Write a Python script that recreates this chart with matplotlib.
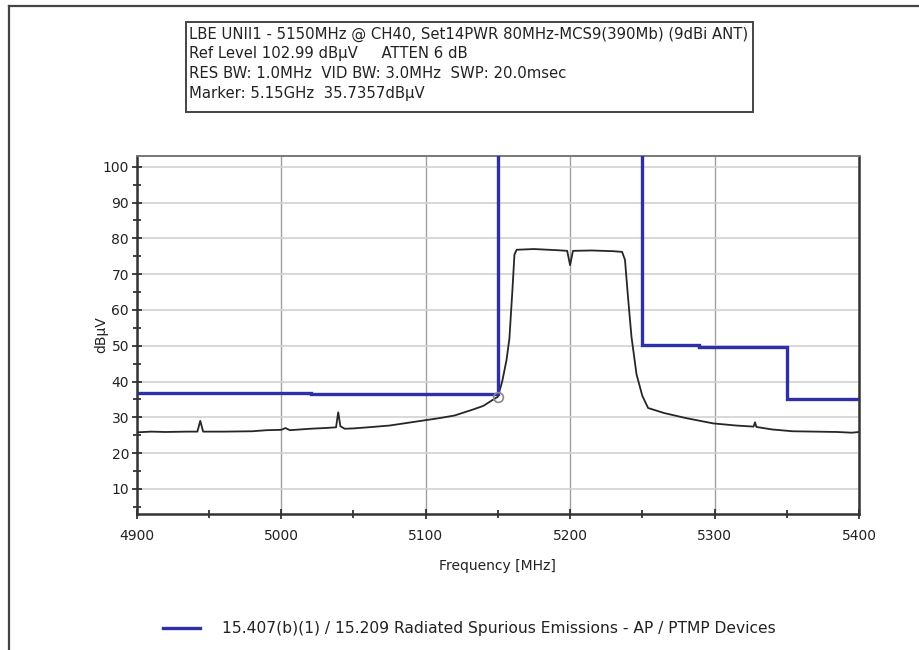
import matplotlib
matplotlib.use("Agg")
import matplotlib.pyplot as plt
from matplotlib.lines import Line2D
from matplotlib.patches import Rectangle
from matplotlib.ticker import MultipleLocator

plt.rcParams['font.family'] = ['DejaVu Sans']

# Measured peak trace (frequency in MHz, level in dBuV)
trace_freq = [4900, 4910, 4920, 4935, 4942, 4944, 4946, 4960, 4980, 4990,
              5000, 5003, 5006, 5020, 5030, 5038, 5039.5, 5041, 5044, 5050,
              5060, 5075, 5090, 5100, 5110, 5120, 5133, 5140, 5147, 5150,
              5153, 5156, 5158, 5160, 5161.5, 5163, 5175, 5190, 5198, 5200,
              5202, 5215, 5230, 5236, 5238, 5240, 5242.5, 5246, 5250, 5254,
              5265, 5280, 5299, 5315, 5327, 5328, 5329, 5340, 5354, 5370,
              5385, 5395, 5400]
trace_level = [25.8, 26.0, 25.9, 26.0, 26.0, 29.0, 26.0, 26.0, 26.1, 26.4,
               26.5, 27.0, 26.4, 26.8, 27.0, 27.2, 31.4, 27.5, 26.8, 26.9,
               27.2, 27.7, 28.6, 29.2, 29.8, 30.5, 32.2, 33.2, 35.0, 35.7357,
               40.0, 46.0, 52.0, 65.0, 75.5, 76.8, 77.0, 76.7, 76.5, 72.5,
               76.5, 76.6, 76.4, 76.2, 74.0, 64.0, 52.5, 42.0, 36.0, 32.6,
               31.2, 29.8, 28.3, 27.7, 27.4, 28.6, 27.3, 26.6, 26.1, 26.0,
               25.9, 25.7, 25.9]

# Limit line: band edges (MHz) and level per band (dBuV); restricted band runs off scale
limit_edges = [4900, 5021, 5150, 5250, 5289, 5350, 5400]
limit_levels = [36.9, 36.4, 200.0, 50.1, 49.6, 35.2]

marker_freq = 5150
marker_level = 35.7357

x_ticks = [4900, 5000, 5100, 5200, 5300, 5400]
y_ticks = [10, 20, 30, 40, 50, 60, 70, 80, 90, 100]

header_lines = [
    "LBE UNII1 - 5150MHz @ CH40, Set14PWR 80MHz-MCS9(390Mb) (9dBi ANT)",
    "Ref Level 102.99 dB\u00b5V     ATTEN 6 dB",
    "RES BW: 1.0MHz  VID BW: 3.0MHz  SWP: 20.0msec",
    "Marker: 5.15GHz  35.7357dB\u00b5V",
]
legend_label = "15.407(b)(1) / 15.209 Radiated Spurious Emissions - AP / PTMP Devices"

W, H = 920, 650
LIMIT_COLOR = "#2f2fa8"
TEXT_COLOR = "#222222"

fig = plt.figure(figsize=(W / 100, H / 100), dpi=100)
fig.patch.set_facecolor("white")


def fx(px):
    return px / W


def fy(py):
    return 1 - py / H


# Outer frame (left and top edges)
fig.add_artist(Line2D([fx(9), fx(9)], [fy(6), 0], color="#444444", lw=1.6))
fig.add_artist(Line2D([fx(9), 1], [fy(6), fy(6)], color="#444444", lw=1.6))

ax = fig.add_axes([fx(136.7), fy(514), fx(859) - fx(136.7), fy(156) - fy(514)])
ax.set_xlim(4900, 5400)
ax.set_ylim(2.99, 102.99)

ax.xaxis.set_minor_locator(MultipleLocator(50))
ax.yaxis.set_minor_locator(MultipleLocator(5))
ax.set_xticks(x_ticks)
ax.set_yticks(y_ticks)
ax.set_xticklabels([str(v) for v in x_ticks])
ax.set_yticklabels([str(v) for v in y_ticks])

ax.tick_params(which="both", direction="inout", color="#222222", width=1.2,
               labelsize=10, labelcolor=TEXT_COLOR)
ax.tick_params(which="major", length=7)
ax.tick_params(which="minor", length=6)
ax.tick_params(axis="x", which="major", pad=7)
ax.tick_params(axis="y", which="major", pad=2)

ax.grid(True, axis="x", which="major", color="#a0a0a0", lw=1.0)
ax.grid(True, axis="y", which="major", color="#d2d2d2", lw=1.2)
ax.set_axisbelow(True)

for side in ("left", "bottom", "right"):
    ax.spines[side].set_color("#333333")
    ax.spines[side].set_linewidth(1.8)
ax.spines["top"].set_color("#777777")
ax.spines["top"].set_linewidth(1.4)

ax.plot(trace_freq, trace_level, color="#262626", lw=1.3, zorder=3)
ax.stairs(limit_levels, limit_edges, baseline=None, color=LIMIT_COLOR, lw=2.4, zorder=4)
ax.plot([marker_freq], [marker_level], marker="o", ms=7, mfc="none",
        mec="#888888", mew=1.2, zorder=5)

ax.set_xlabel("Frequency [MHz]", fontsize=10, color=TEXT_COLOR, labelpad=12)
ax.set_ylabel("dB\u00b5V", fontsize=10, color=TEXT_COLOR, labelpad=-4)

# Header box with instrument settings
fig.add_artist(Rectangle((fx(186), fy(112)), fx(753) - fx(186), fy(22) - fy(112),
                         fill=False, ec="#444444", lw=1.4))
for i, line in enumerate(header_lines):
    fig.text(fx(189), fy(34 + 19.7 * i), line, fontsize=10.75, color=TEXT_COLOR,
             ha="left", va="center")

# Legend row
fig.add_artist(Line2D([fx(163), fx(200)], [fy(628), fy(628)], color=LIMIT_COLOR, lw=2.4))
fig.text(fx(222), fy(628), legend_label, fontsize=11.2, color=TEXT_COLOR,
         ha="left", va="center")

fig.savefig("out.png", dpi=100, facecolor="white")
